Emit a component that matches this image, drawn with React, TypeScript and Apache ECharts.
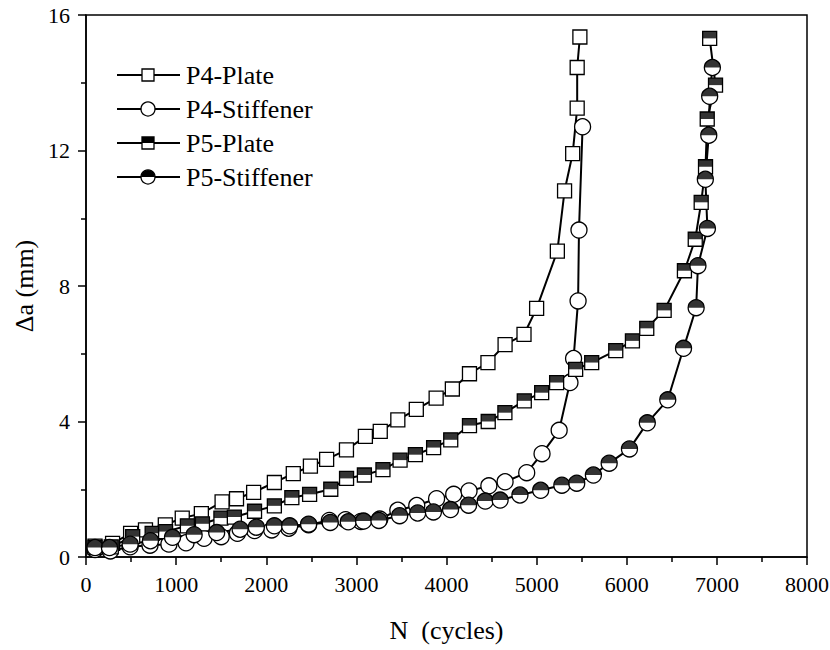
import React, { useEffect, useRef } from "react";
import * as echarts from "echarts";

// Crack growth Δa (mm) against load cycles N for two specimens
const P4_PLATE_N = [100, 295, 495, 660, 880, 1068, 1280, 1510, 1670, 1860, 2090, 2300, 2490, 2670, 2890, 3100, 3265, 3460, 3665, 3885, 4065, 4255, 4460, 4650, 4860, 5000, 5230, 5310, 5400, 5450, 5450, 5480];
const P4_PLATE_DA = [0.32, 0.4, 0.7, 0.8, 0.95, 1.15, 1.28, 1.63, 1.72, 1.91, 2.2, 2.46, 2.68, 2.88, 3.16, 3.56, 3.71, 4.05, 4.36, 4.69, 4.96, 5.41, 5.74, 6.27, 6.57, 7.34, 9.03, 10.81, 11.91, 13.25, 14.45, 15.35];

const P4_STIFF_N = [100, 270, 490, 710, 920, 1110, 1310, 1500, 1680, 1870, 2060, 2250, 2470, 2700, 2880, 3050, 3260, 3460, 3670, 3890, 4080, 4250, 4470, 4650, 4890, 5060, 5250, 5370, 5410, 5460, 5470, 5510];
const P4_STIFF_DA = [0.22, 0.18, 0.3, 0.35, 0.38, 0.42, 0.55, 0.6, 0.7, 0.78, 0.8, 0.85, 0.95, 1.08, 1.1, 1.05, 1.12, 1.38, 1.52, 1.72, 1.85, 1.95, 2.1, 2.22, 2.49, 3.05, 3.74, 5.15, 5.86, 7.56, 9.65, 12.7];

const P5_PLATE_N = [100, 280, 518, 734, 883, 1125, 1292, 1497, 1646, 1870, 2090, 2284, 2481, 2716, 2891, 3089, 3295, 3485, 3655, 3857, 4047, 4255, 4463, 4648, 4863, 5056, 5222, 5433, 5611, 5878, 6063, 6222, 6415, 6640, 6760, 6826, 6874, 6893, 6985, 6920];
const P5_PLATE_DA = [0.28, 0.3, 0.6, 0.7, 0.75, 0.92, 0.98, 1.15, 1.18, 1.35, 1.51, 1.75, 1.85, 2.0, 2.32, 2.42, 2.58, 2.86, 3.02, 3.23, 3.46, 3.88, 4.0, 4.26, 4.61, 4.85, 5.15, 5.54, 5.74, 6.09, 6.38, 6.75, 7.28, 8.45, 9.38, 10.47, 11.52, 12.93, 13.93, 15.31];

const P5_STIFF_N = [100, 260, 490, 715, 960, 1200, 1450, 1710, 1890, 2090, 2260, 2470, 2710, 2910, 3080, 3250, 3480, 3680, 3855, 4045, 4245, 4430, 4595, 4815, 5045, 5280, 5445, 5630, 5805, 6030, 6228, 6455, 6630, 6770, 6790, 6895, 6872, 6910, 6920, 6950];
const P5_STIFF_DA = [0.28, 0.28, 0.38, 0.48, 0.58, 0.66, 0.72, 0.82, 0.88, 0.92, 0.92, 0.97, 1.02, 1.04, 1.06, 1.08, 1.22, 1.3, 1.33, 1.4, 1.53, 1.65, 1.68, 1.83, 1.97, 2.12, 2.18, 2.42, 2.77, 3.19, 3.96, 4.64, 6.16, 7.36, 8.6, 9.7, 11.15, 12.45, 13.6, 14.45];

const SERIES_NAMES = ["P4-Plate", "P4-Stiffener", "P5-Plate", "P5-Stiffener"];
const X_TICKS = { min: 0, max: 8000, step: 1000 };
const Y_TICKS = { min: 0, max: 16, step: 4 };

const FONT = "Liberation Serif";

const zip = (xs: number[], ys: number[]) => xs.map((x, i) => [x, ys[i]]);

// upper half of a disc, used to paint the half-filled circle markers
const HALF_DISC = "path://M0,10 A10,10 0 0 1 20,10 Z";

const SQ = 14;
const CIR = 16;

export default function App() {
  const ref = useRef<HTMLDivElement>(null);

  useEffect(() => {
    if (!ref.current) return;
    const chart = echarts.init(ref.current, undefined, { renderer: "svg" });

    const base = (name: string, data: number[][], symbol: string, size: number) => ({
      name,
      type: "line",
      data,
      symbol,
      symbolSize: size,
      showSymbol: true,
      silent: true,
      lineStyle: { color: "#000", width: 2 },
      itemStyle: { color: "#fff", borderColor: "#000", borderWidth: 1.3 },
      emphasis: { disabled: true },
      z: 2,
    });

    const topHalf = (data: number[][], symbol: string, size: number) => ({
      type: "scatter",
      data,
      symbol,
      symbolSize: [size, size / 2],
      symbolOffset: [0, "-50%"],
      silent: true,
      itemStyle: { color: "#000", borderWidth: 0 },
      emphasis: { disabled: true },
      z: 2,
    });

    const p4p = zip(P4_PLATE_N, P4_PLATE_DA);
    const p4s = zip(P4_STIFF_N, P4_STIFF_DA);
    const p5p = zip(P5_PLATE_N, P5_PLATE_DA);
    const p5s = zip(P5_STIFF_N, P5_STIFF_DA);

    // hand-drawn legend entries
    const legendTop = 75;
    const legendStep = 34;
    const legend: any[] = [];
    SERIES_NAMES.forEach((name, i) => {
      const cy = legendTop + i * legendStep;
      const cx = 148;
      legend.push({ type: "line", shape: { x1: 117, y1: cy, x2: 180, y2: cy }, style: { stroke: "#000", lineWidth: 2 } });
      if (i === 0 || i === 2) {
        const s = 12;
        legend.push({ type: "rect", shape: { x: cx - s / 2, y: cy - s / 2, width: s, height: s }, style: { fill: "#fff", stroke: "#000", lineWidth: 1.3 } });
        if (i === 2) {
          legend.push({ type: "rect", shape: { x: cx - s / 2, y: cy - s / 2, width: s, height: s / 2 }, style: { fill: "#000" } });
        }
      } else {
        const r = 7;
        legend.push({ type: "circle", shape: { cx, cy, r }, style: { fill: "#fff", stroke: "#000", lineWidth: 1.3 } });
        if (i === 3) {
          legend.push({ type: "sector", shape: { cx, cy, r, r0: 0, startAngle: Math.PI, endAngle: Math.PI * 2, clockwise: true }, style: { fill: "#000" } });
        }
      }
      legend.push({ type: "text", x: 186, y: cy, style: { text: name, fontFamily: FONT, fontSize: 26, fill: "#000", verticalAlign: "middle", align: "left" } });
    });

    chart.setOption({
      animation: false,
      backgroundColor: "#fff",
      textStyle: { fontFamily: FONT },
      grid: { left: 86, top: 15, width: 721, height: 542, show: true, borderColor: "#000", borderWidth: 1.5, backgroundColor: "transparent", outerBoundsMode: "none" },
      xAxis: {
        type: "value",
        min: X_TICKS.min,
        max: X_TICKS.max,
        interval: X_TICKS.step,
        name: "N  (cycles)",
        nameLocation: "middle",
        nameGap: 60,
        nameTextStyle: { color: "#000", fontFamily: FONT, fontSize: 26 },
        axisLine: { lineStyle: { color: "#000", width: 1.5 } },
        axisTick: { show: true, inside: false, length: 8, lineStyle: { color: "#000", width: 1.5 } },
        minorTick: { show: true, splitNumber: 2, length: 5, lineStyle: { color: "#000", width: 1.5 } },
        splitLine: { show: false },
        axisLabel: { color: "#000", fontFamily: FONT, fontSize: 22, margin: 16, formatter: (v: number) => String(v) },
      },
      yAxis: {
        type: "value",
        min: Y_TICKS.min,
        max: Y_TICKS.max,
        interval: Y_TICKS.step,
        name: "Δa (mm)",
        nameLocation: "middle",
        nameGap: 40,
        nameTextStyle: { color: "#000", fontFamily: FONT, fontSize: 26 },
        axisLine: { lineStyle: { color: "#000", width: 1.5 } },
        axisTick: { show: true, inside: false, length: 8, lineStyle: { color: "#000", width: 1.5 } },
        minorTick: { show: true, splitNumber: 2, length: 5, lineStyle: { color: "#000", width: 1.5 } },
        splitLine: { show: false },
        axisLabel: { color: "#000", fontFamily: FONT, fontSize: 22, margin: 16, formatter: (v: number) => String(v) },
      },
      series: [
        base(SERIES_NAMES[0], p4p, "rect", SQ),
        base(SERIES_NAMES[1], p4s, "circle", CIR),
        base(SERIES_NAMES[2], p5p, "rect", SQ),
        topHalf(p5p, "rect", SQ),
        base(SERIES_NAMES[3], p5s, "circle", CIR),
        topHalf(p5s, HALF_DISC, CIR),
      ],
      graphic: legend,
    });

    return () => chart.dispose();
  }, []);

  return <div ref={ref} style={{ position: "absolute", left: 0, top: 0, width: 830, height: 650 }} />;
}
